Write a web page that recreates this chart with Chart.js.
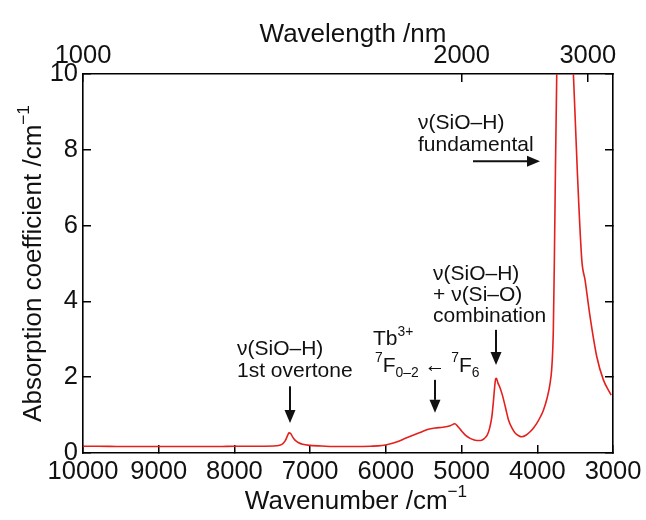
<!DOCTYPE html>
<html lang="en">
<head>
  <meta charset="UTF-8" />
  <title>Absorption spectrum</title>
  <script src="https://cdn.jsdelivr.net/npm/chart.js"></script>
  <style>
    body {
      margin: 0;
      background-color: #fff;
    }
    canvas {
      display: block;
    }
  </style>
</head>
<body>
  <canvas id="spectrum" width="646" height="520"></canvas>

  <script>
    // wavenumber (cm-1) and absorption coefficient (cm-1) of the spectrum
    const wavenumber = [
      10000, 9800, 9500, 9200, 9000, 8700, 8500, 8200, 8000, 7800, 7600, 7450,
      7380, 7330, 7300, 7280, 7260, 7230, 7200, 7150, 7100, 7000, 6800, 6600,
      6400, 6200, 6050, 5950, 5850, 5750, 5650, 5550, 5450, 5350, 5250, 5150,
      5090, 5050, 5000, 4950, 4880, 4800, 4750, 4700, 4660, 4630, 4600, 4580,
      4565, 4550, 4540, 4520, 4490, 4460, 4420, 4380, 4330, 4290, 4240, 4205,
      4150, 4095, 4050, 4007, 3960, 3919, 3870, 3831, 3810, 3796, 3788, 3775,
      3760, 3740, 3700, 3640, 3580, 3545, 3523, 3470, 3412, 3369, 3303, 3214,
      3127, 3025
    ];
    const absorption = [
      0.18, 0.18, 0.17, 0.17, 0.17, 0.17, 0.17, 0.17, 0.18, 0.18, 0.18, 0.19,
      0.22, 0.32, 0.45, 0.53, 0.52, 0.42, 0.34, 0.27, 0.23, 0.20, 0.18, 0.17,
      0.17, 0.18, 0.20, 0.24, 0.30, 0.38, 0.46, 0.54, 0.62, 0.66, 0.68, 0.72,
      0.77, 0.70, 0.58, 0.47, 0.38, 0.33, 0.33, 0.38, 0.48, 0.65, 0.96, 1.35,
      1.70, 1.95, 1.97, 1.85, 1.71, 1.52, 1.20, 0.87, 0.64, 0.52, 0.45, 0.43,
      0.47, 0.56, 0.66, 0.78, 0.95, 1.13, 1.45, 1.84, 2.20, 2.72, 3.25, 5.00,
      7.50, 10.4, 16.0, 20.0, 16.0, 11.5, 10.0, 7.38, 5.09, 4.56, 3.60, 2.54,
      1.93, 1.53
    ];

    const wavenumberTicks = [10000, 9000, 8000, 7000, 6000, 5000, 4000, 3000];
    const wavelengthTicks = [1000, 2000, 3000]; // nm, top axis
    const absorptionTicks = [0, 2, 4, 6, 8, 10];

    const FONT = '"Liberation Sans", Arial, Helvetica, sans-serif';
    const INK = '#111';

    // text blocks: runs with optional sup/sub, anchored in data units
    const labels = [
      { x: 7966, y: 2.59, runs: [{ t: 'ν(SiO–H)' }] },
      { x: 7966, y: 2.01, runs: [{ t: '1st overtone' }] },
      { x: 6170, y: 2.85, runs: [{ t: 'Tb' }, { t: '3+', sup: true }] },
      { x: 6144, y: 2.14, runs: [
        { t: '7', sup: true }, { t: 'F' }, { t: '0–2', sub: true },
        { t: ' ← ' }, { t: '7', sup: true }, { t: 'F' }, { t: '6', sub: true }
      ] },
      { x: 5377, y: 4.56, runs: [{ t: 'ν(SiO–H)' }] },
      { x: 5377, y: 4.01, runs: [{ t: '+ ν(Si–O)' }] },
      { x: 5377, y: 3.46, runs: [{ t: 'combination' }] },
      { x: 5575, y: 8.55, runs: [{ t: 'ν(SiO–H)' }] },
      { x: 5575, y: 7.97, runs: [{ t: 'fundamental' }] }
    ];
    const arrows = [
      { x1: 7266, y1: 1.76, x2: 7266, y2: 0.79 },
      { x1: 5351, y1: 1.93, x2: 5351, y2: 1.06 },
      { x1: 4545, y1: 3.25, x2: 4545, y2: 2.32 },
      { x1: 4849, y1: 7.70, x2: 3964, y2: 7.70 }
    ];

    function runsWidth(ctx, runs, size) {
      let w = 0;
      for (const r of runs) {
        ctx.font = `${(r.sup || r.sub) ? size * 0.66 : size}px ${FONT}`;
        w += ctx.measureText(r.t).width;
      }
      return w;
    }

    function drawRuns(ctx, runs, px, py, size) {
      let cx = px;
      ctx.textAlign = 'left';
      ctx.textBaseline = 'alphabetic';
      for (const r of runs) {
        const s = (r.sup || r.sub) ? size * 0.66 : size;
        const dy = r.sup ? -size * 0.45 : r.sub ? size * 0.24 : 0;
        ctx.font = `${s}px ${FONT}`;
        ctx.fillText(r.t, cx, py + dy);
        cx += ctx.measureText(r.t).width;
      }
    }

    function drawArrow(ctx, x1, y1, x2, y2) {
      const ang = Math.atan2(y2 - y1, x2 - x1);
      const head = 13, half = 5.5;
      ctx.beginPath();
      ctx.moveTo(x1, y1);
      ctx.lineTo(x2 - Math.cos(ang) * head, y2 - Math.sin(ang) * head);
      ctx.stroke();
      ctx.beginPath();
      ctx.moveTo(x2, y2);
      ctx.lineTo(x2 - Math.cos(ang) * head - Math.sin(ang) * half,
                 y2 - Math.sin(ang) * head + Math.cos(ang) * half);
      ctx.lineTo(x2 - Math.cos(ang) * head + Math.sin(ang) * half,
                 y2 - Math.sin(ang) * head - Math.cos(ang) * half);
      ctx.closePath();
      ctx.fill();
    }

    const annotate = {
      id: 'annotate',
      afterDraw(chart) {
        const { ctx, chartArea: area, scales: { x, y } } = chart;
        ctx.save();
        ctx.fillStyle = INK;
        ctx.strokeStyle = INK;
        ctx.lineWidth = 2;

        labels.forEach(l => drawRuns(ctx, l.runs, x.getPixelForValue(l.x), y.getPixelForValue(l.y), 21));
        arrows.forEach(a => drawArrow(ctx,
          x.getPixelForValue(a.x1), y.getPixelForValue(a.y1),
          x.getPixelForValue(a.x2), y.getPixelForValue(a.y2)));

        // axis titles
        const cx = (area.left + area.right) / 2;
        const bottomTitle = [{ t: 'Wavenumber /cm' }, { t: '−1', sup: true }];
        drawRuns(ctx, bottomTitle, cx - runsWidth(ctx, bottomTitle, 26) / 2 + 8, area.bottom + 56, 26);

        const topTitle = [{ t: 'Wavelength /nm' }];
        drawRuns(ctx, topTitle, cx - runsWidth(ctx, topTitle, 26) / 2 + 5, area.top - 32, 26);

        const leftTitle = [{ t: 'Absorption coefficient /cm' }, { t: '−1', sup: true }];
        ctx.translate(area.left - 42, (area.top + area.bottom) / 2);
        ctx.rotate(-Math.PI / 2);
        drawRuns(ctx, leftTitle, -runsWidth(ctx, leftTitle, 26) / 2, 0, 26);
        ctx.restore();
      }
    };

    const tickFont = { family: FONT, size: 25.5 };
    const frame = { display: true, color: '#000', width: 1.6 };
    const inward = { drawOnChartArea: false, drawTicks: true, tickLength: -8, color: '#000', lineWidth: 1.5 };
    const fixSize = (prop, val) => scale => {
      scale[prop] = val;
      scale.paddingLeft = scale.paddingRight = scale.paddingTop = scale.paddingBottom = 0;
    };

    new Chart(document.getElementById('spectrum'), {
      type: 'line',
      data: {
        datasets: [{
          data: wavenumber.map((w, i) => ({ x: w, y: absorption[i] })),
          borderColor: '#e3201c',
          borderWidth: 1.6,
          pointRadius: 0,
          cubicInterpolationMode: 'monotone',
          fill: false
        }]
      },
      options: {
        responsive: false,
        animation: false,
        layout: { padding: 0 },
        plugins: {
          legend: { display: false },
          tooltip: { enabled: false }
        },
        scales: {
          x: {
            type: 'linear',
            position: 'bottom',
            reverse: true,
            min: 3000,
            max: 10000,
            afterBuildTicks: s => { s.ticks = wavenumberTicks.map(v => ({ value: v })); },
            ticks: { font: tickFont, color: INK, padding: 12, maxRotation: 0, autoSkip: false,
                     callback: v => String(v) },
            grid: inward,
            border: frame,
            afterFit: fixSize('height', 67)
          },
          x2: {
            type: 'linear',
            position: 'top',
            reverse: true,
            min: 3000,
            max: 10000,
            afterBuildTicks: s => { s.ticks = wavelengthTicks.map(nm => ({ value: 1e7 / nm })); },
            ticks: { font: tickFont, color: INK, padding: 11, maxRotation: 0, autoSkip: false,
                     callback: v => String(Math.round(1e7 / v)) },
            grid: inward,
            border: frame,
            afterFit: fixSize('height', 74)
          },
          y: {
            position: 'left',
            min: 0,
            max: 10,
            afterBuildTicks: s => { s.ticks = absorptionTicks.map(v => ({ value: v })); },
            ticks: { font: tickFont, color: INK, padding: 13 },
            grid: inward,
            border: frame,
            afterFit: fixSize('width', 83)
          },
          y2: {
            position: 'right',
            min: 0,
            max: 10,
            afterBuildTicks: s => { s.ticks = absorptionTicks.map(v => ({ value: v })); },
            ticks: { display: false },
            grid: inward,
            border: frame,
            afterFit: fixSize('width', 33)
          }
        }
      },
      plugins: [annotate]
    });
  </script>
</body>
</html>
